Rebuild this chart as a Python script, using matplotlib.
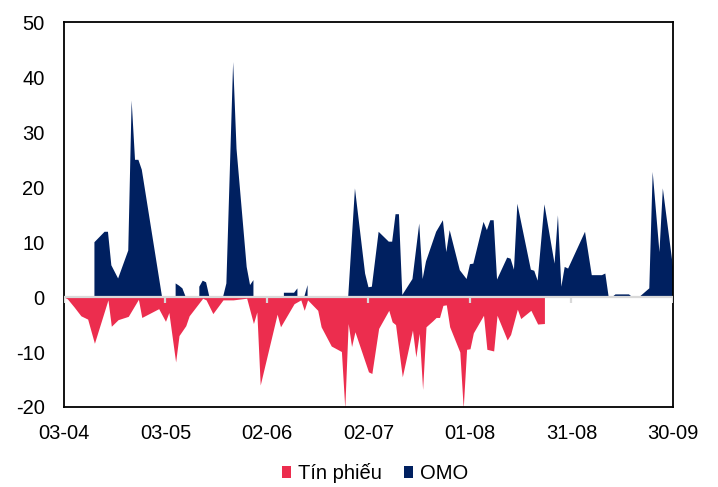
import matplotlib
matplotlib.use('Agg')
import matplotlib.pyplot as plt
import numpy as np
import pandas as pd
from matplotlib.patches import Patch

plt.rcParams['font.family'] = ['Liberation Sans', 'DejaVu Sans']
plt.rcParams['axes.unicode_minus'] = False

# x positions are days counted from 03-04
start_date = '2024-04-03'
tick_days = [0, 30, 60, 90, 120, 150, 180]
y_ticks = [-20, -10, 0, 10, 20, 30, 40, 50]

# OMO (None = no value, breaks the area)
omo_days = [9, 12, 13, 14, 16, 19, 20, 21, 22, 23, 29, 30,
            33, 34, 35, 36, 37,
            40, 41, 42, 43, 44,
            47, 48, 50, 51, 54, 55, 56, 57,
            65, 68, 69, 70,
            71, 72, 73,
            84, 86, 89, 90, 91, 93, 96, 97, 98, 99, 100, 103, 105, 106, 107,
            110, 112, 113, 114, 117, 119, 120, 121, 124, 125, 126, 127, 128,
            131, 132, 133, 134, 138, 139, 140, 142, 145, 146, 147, 148, 149,
            154, 156, 159, 160, 161, 162, 163, 167, 168, 170, 173, 174, 176,
            177, 180]
omo_vals = [10, 11.9, 11.9, 5.8, 3.4, 8.5, 35.8, 25, 25, 23.2, 0, None,
            2.5, 2.1, 1.6, 0, None,
            1.9, 3.0, 2.7, 0, None,
            0, 2.5, 42.8, 27, 5.5, 2.2, 3.1, None,
            0.8, 0.8, 1.6, None,
            0, 2.2, None,
            0, 19.8, 4.3, 1.8, 1.9, 11.9, 10.1, 10.1, 15.1, 15.1, 0.4, 3.3, 13.4, 3.3, 6.5,
            11.9, 14, 8.2, 12.2, 4.9, 3.3, 6.0, 6.1, 13.7, 12.2, 14, 14, 3.2,
            7.2, 7.0, 5, 17, 5, 4.8, 3, 16.9, 6.1, 14.9, 1.9, 5.5, 5.2,
            11.9, 4, 4, 4.3, 0, 0, 0.5, 0.5, 0, 0, 1.6, 22.8, 8.2,
            19.8, 5.5]

# Tin phieu
tp_days = [0, 1, 3, 5, 7, 9, 13, 14, 16, 19, 22, 23, 28, 30, 31, 33, 34, 36, 37, 41,
           42, 44, 47, 50, 54, 56, 57, 58, 63, 64, 68, 70, 71, 72, 75, 76, 79, 82, 83, 84,
           85, 86, 90, 91, 93, 96, 97, 98, 100, 103, 104, 105, 106, 107, 109, 110, 111,
           112, 113, 114, 117, 118, 119, 120, 121, 124, 125, 127, 128, 131, 132, 134,
           135, 138, 140, 142]
tp_vals = [0, -0.3, -1.8, -3.4, -4, -8.4, -0.5, -5.3, -4.1, -3.5, -0.4, -3.7, -2.1, -4.4,
           -2.8, -11.8, -7.0, -5.2, -3.4, -0.2, -0.5, -3.0, -0.5, -0.5, -0.2, -4.8, -2.7,
           -16, -3.1, -5.4, -1.2, -0.5, -2.4, -0.5, -2.4, -5.4, -8.9, -9.9, -20.2, -4.8,
           -9, -6.3, -13.6, -13.9, -5.7, -2.4, -4.5, -5, -14.5, -6, -10.9, -6.6, -16.8,
           -5.4, -4.3, -3.7, -3.7, -1.5, -1.4, -5.4, -10, -20.2, -9.5, -9.4, -6.5, -3.3,
           -9.5, -9.8, -3.3, -7.8, -6.8, -2.2, -3.9, -2.4, -4.9, -4.8]

red = '#EC2D4E'
navy = '#002060'

start = pd.Timestamp(start_date)
tick_labels = [(start + pd.Timedelta(days=d)).strftime('%d-%m') for d in tick_days]

fig = plt.figure(figsize=(7.18, 4.87), dpi=100)
ax = fig.add_axes([0.0891, 0.1643, 0.8482, 0.7895])

ax.fill_between(tp_days, 0, np.array(tp_vals, dtype=float), color=red, lw=0, zorder=2)
ax.fill_between(omo_days, 0, np.array(omo_vals, dtype=float), color=navy, lw=0, zorder=2)

# zero line with its small tick marks
ax.axhline(0, color='#D9D9D9', lw=1.6, zorder=3)
ax.vlines(tick_days, -1, 0, color='#D9D9D9', lw=1.6, zorder=3)

ax.set_xlim(0, 180)
ax.set_ylim(-20, 50)
ax.set_xticks(tick_days)
ax.set_xticklabels(tick_labels)
ax.set_yticks(y_ticks)
ax.tick_params(axis='both', length=0, labelsize=14.5, colors='black')
ax.tick_params(axis='x', pad=12)
ax.tick_params(axis='y', pad=14)
for s in ax.spines.values():
	s.set_linewidth(1.3)
	s.set_color('black')

handles = [Patch(facecolor=red, edgecolor='none'), Patch(facecolor=navy, edgecolor='none')]
fig.legend(handles, ['Tín phiếu', 'OMO'], loc='center', bbox_to_anchor=(375 / 718, 1 - 473 / 487),
           ncol=2, frameon=False, fontsize=14.5, handlelength=0.45, handleheight=0.6,
           handletextpad=0.35, columnspacing=1.1)

plt.savefig('out.png', dpi=100)
